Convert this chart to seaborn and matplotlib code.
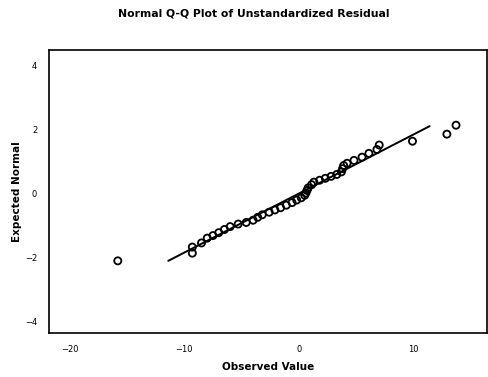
import matplotlib
matplotlib.use("Agg")
import matplotlib.pyplot as plt
import seaborn as sns
import pandas as pd

observed = [-15.8, -9.3, -9.3, -8.5, -8.0, -7.5, -7.0, -6.5, -6.0, -5.3, -4.6, -4.0,
            -3.6, -3.2, -2.6, -2.1, -1.6, -1.1, -0.6, -0.2, 0.2, 0.5, 0.6, 0.7, 0.8,
            1.1, 1.3, 1.8, 2.3, 2.8, 3.3, 3.7, 3.8, 3.9, 4.2, 4.8, 5.5, 6.1, 6.8, 7.0,
            9.9, 12.9, 13.7]
expected = [-2.12, -1.88, -1.69, -1.56, -1.41, -1.33, -1.24, -1.14, -1.05, -0.97, -0.92, -0.85,
            -0.76, -0.68, -0.60, -0.53, -0.46, -0.38, -0.30, -0.22, -0.15, -0.07, 0.00, 0.08, 0.16,
            0.26, 0.34, 0.40, 0.46, 0.52, 0.58, 0.66, 0.76, 0.86, 0.93, 1.02, 1.12, 1.24, 1.36, 1.50,
            1.62, 1.84, 2.12]
line_x = [-11.4, 11.4]
line_y = [-2.12, 2.09]
x_ticks = [-20, -10, 0, 10]
y_ticks = [-4, -2, 0, 2, 4]

sns.set_style("white")
plt.rcParams['font.family'] = ['DejaVu Sans']
plt.rcParams['text.color'] = 'black'
plt.rcParams['axes.labelcolor'] = 'black'
plt.rcParams['xtick.color'] = 'black'
plt.rcParams['ytick.color'] = 'black'

fig = plt.figure(figsize=(4.88, 3.77), dpi=100)
ax = fig.add_axes([49/488, 1-333/377, 438/488, 283/377])

pts = pd.DataFrame({"Observed Value": observed, "Expected Normal": expected})
ln = pd.DataFrame({"x": line_x, "y": line_y})
sns.lineplot(data=ln, x="x", y="y", ax=ax, color="black", lw=1.4)
sns.scatterplot(data=pts, x="Observed Value", y="Expected Normal", ax=ax,
                marker="o", s=26, facecolor="none", edgecolor="black", linewidth=1.3)

ax.set_xlim(-21.8, 16.4)
ax.set_ylim(-4.375, 4.47)
ax.set_xticks(x_ticks)
ax.set_yticks(y_ticks)
ax.tick_params(axis="both", direction="out", length=7, width=1.2, labelsize=6, pad=1.5)
for s in ax.spines.values():
    s.set_color("black")
    s.set_linewidth(1.2)
ax.set_xlabel("Observed Value", fontsize=7.5, fontweight="bold", labelpad=6)
ax.set_ylabel("Expected Normal", fontsize=7.5, fontweight="bold", labelpad=2)
fig.text(0.52, 1-13/377, "Normal Q-Q Plot of Unstandardized Residual", ha="center", va="center",
         fontsize=7.8, fontweight="bold")
fig.savefig("out.png", dpi=100)
